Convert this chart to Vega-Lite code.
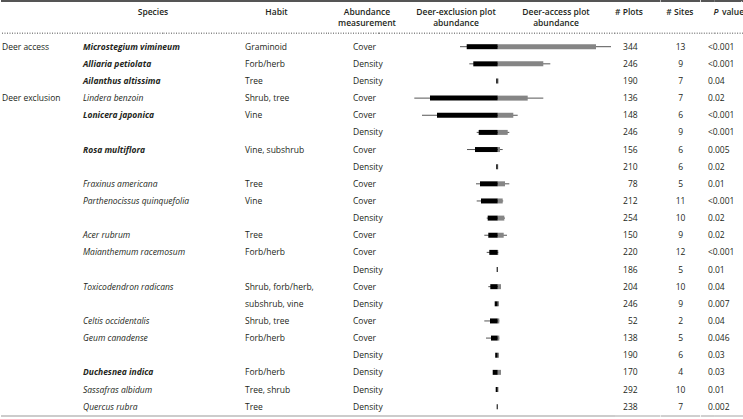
{
  "$schema": "https://vega.github.io/schema/vega-lite/v6.json",
  "padding": 0,
  "spacing": 0,
  "bounds": "flush",
  "config": {
    "view": {"stroke": null},
    "font": "Open Sans",
    "text": {"font": "Open Sans", "fontSize": 8.5, "color": "#231f20"}
  },
  "datasets": {
    "rows": [
      {"row":1,"g":"Deer access","s":"Microstegium vimineum","b":true,"h":"Graminoid","m":"Cover","n":"344","k":"13","p":"<0.001","exw":-37.7,"ex":-31,"ac":98.3,"acw":113.3},
      {"row":2,"s":"Alliaria petiolata","b":true,"h":"Forb/herb","m":"Density","n":"246","k":"9","p":"<0.001","exw":-28.4,"ex":-24.4,"ac":45.6,"acw":52.6},
      {"row":3,"s":"Ailanthus altissima","b":true,"h":"Tree","m":"Density","n":"190","k":"7","p":"0.04","ex":-1.5,"ac":0.8},
      {"row":4,"g":"Deer exclusion","s":"Lindera benzoin","b":false,"h":"Shrub, tree","m":"Cover","n":"136","k":"7","p":"0.02","exw":-83.4,"ex":-67.7,"ac":30,"acw":45.6},
      {"row":5,"s":"Lonicera japonica","b":true,"h":"Vine","m":"Cover","n":"148","k":"6","p":"<0.001","exw":-75.7,"ex":-60.7,"ac":15.6,"acw":20},
      {"row":6,"m":"Density","n":"246","k":"9","p":"<0.001","exw":-21,"ex":-19,"ac":10,"acw":11.6},
      {"row":7,"s":"Rosa multiflora","b":true,"h":"Vine, subshrub","m":"Cover","n":"156","k":"6","p":"0.005","exw":-30.7,"ex":-22.7,"ac":2.3,"acw":5},
      {"row":8,"m":"Density","n":"210","k":"6","p":"0.02","ex":-1.5,"ac":0.5},
      {"row":9,"s":"Fraxinus americana","b":false,"h":"Tree","m":"Cover","n":"78","k":"5","p":"0.01","exw":-21.7,"ex":-17.7,"ac":7.3,"acw":11.6},
      {"row":10,"s":"Parthenocissus quinquefolia","b":false,"h":"Vine","m":"Cover","n":"212","k":"11","p":"<0.001","exw":-21,"ex":-16.7,"ac":5,"acw":5.5},
      {"row":11,"m":"Density","n":"254","k":"10","p":"0.02","exw":-11,"ex":-10,"ac":6.6,"acw":7.3},
      {"row":12,"s":"Acer rubrum","b":false,"h":"Tree","m":"Cover","n":"150","k":"9","p":"0.02","exw":-13.4,"ex":-9.4,"ac":6,"acw":9.3},
      {"row":13,"s":"Maianthemum racemosum","b":false,"h":"Forb/herb","m":"Cover","n":"220","k":"12","p":"<0.001","exw":-11,"ex":-8.4,"ac":0.6,"acw":0.6},
      {"row":14,"m":"Density","n":"186","k":"5","p":"0.01","ex":-1,"ac":0.3},
      {"row":15,"s":"Toxicodendron radicans","b":false,"h":"Shrub, forb/herb,","m":"Cover","n":"204","k":"10","p":"0.04","exw":-9.4,"ex":-7.4,"ac":3.3,"acw":3.3},
      {"row":16,"h":"subshrub, vine","m":"Density","n":"246","k":"9","p":"0.007","ex":-3,"ac":1.3},
      {"row":17,"s":"Celtis occidentalis","b":false,"h":"Shrub, tree","m":"Cover","n":"52","k":"2","p":"0.04","exw":-13.4,"ex":-7.7,"ac":1.6,"acw":1.6},
      {"row":18,"s":"Geum canadense","b":false,"h":"Forb/herb","m":"Cover","n":"138","k":"5","p":"0.046","exw":-11.7,"ex":-6.7,"ac":1.6,"acw":1.6},
      {"row":19,"m":"Density","n":"190","k":"6","p":"0.03","ex":-2.5,"ac":1.3},
      {"row":20,"s":"Duchesnea indica","b":true,"h":"Forb/herb","m":"Density","n":"170","k":"4","p":"0.03","ex":-5,"ac":3.3},
      {"row":21,"s":"Sassafras albidum","b":false,"h":"Tree, shrub","m":"Density","n":"292","k":"10","p":"0.01","ex":-2,"ac":0.8},
      {"row":22,"s":"Quercus rubra","b":false,"h":"Tree","m":"Density","n":"238","k":"7","p":"0.002","ex":-1,"ac":0.3}
    ],
    "lines": [
      {"kind":"top","pos":-1.666},
      {"kind":"header","pos":0.218},
      {"kind":"bottom","pos":22.546}
    ],
    "heads": [
      {"col":"species","t":"Species"},
      {"col":"habit","t":"Habit"},
      {"col":"measure","t":"Abundance\nmeasurement"},
      {"col":"excl","t":"Deer-exclusion plot\nabundance"},
      {"col":"acc","t":"Deer-access plot\nabundance"},
      {"col":"plots","t":"# Plots"},
      {"col":"sites","t":"# Sites"},
      {"col":"pi","t":"P"},
      {"col":"pv","t":"value"}
    ]
  },
  "hconcat": [
    {
      "width": 2, "height": 419,
      "layer": [
        {"data":{"name":"lines"},"mark":{"type":"rule"},"encoding":{"y":{"field":"pos","type":"quantitative","scale":{"domain":[-1.7246,22.721],"reverse":true,"nice":false,"zero":false},"axis":null},"color":{"field":"kind","type":"nominal","scale":{"domain":["top","header","bottom"],"range":["#555555","#888888","#999999"]},"legend":null},"strokeWidth":{"field":"kind","type":"ordinal","scale":{"domain":["top","header","bottom"],"range":[2,1,1.5]},"legend":null},"strokeDash":{"field":"kind","type":"nominal","scale":{"domain":["top","header","bottom"],"range":[[1,0],[1,1.5],[1,0]]},"legend":null}}},
        {"data":{"name":"rows"},"transform":[{"filter":"isValid(datum.g)"}],"mark":{"type":"text","align":"left","baseline":"middle"},"encoding":{"text":{"field":"g","type":"nominal"},"y":{"field":"row","type":"quantitative","scale":{"domain":[-1.7246,22.721],"reverse":true,"nice":false,"zero":false},"axis":null}}}
      ]
    },
    {
      "width": 160, "height": 419,
      "layer": [
        {"data":{"name":"lines"},"mark":{"type":"rule"},"encoding":{"y":{"field":"pos","type":"quantitative","scale":{"domain":[-1.7246,22.721],"reverse":true,"nice":false,"zero":false},"axis":null},"color":{"field":"kind","type":"nominal","scale":{"domain":["top","header","bottom"],"range":["#555555","#888888","#999999"]},"legend":null},"strokeWidth":{"field":"kind","type":"ordinal","scale":{"domain":["top","header","bottom"],"range":[2,1,1.5]},"legend":null},"strokeDash":{"field":"kind","type":"nominal","scale":{"domain":["top","header","bottom"],"range":[[1,0],[1,1.5],[1,0]]},"legend":null}}},
        {"data":{"name":"heads"},"transform":[{"filter":"datum.col === 'species'"}],"mark":{"type":"text","align":"center","baseline":"top","dx":70,"fontWeight":600,"lineBreak":"\n","lineHeight":11.7},"encoding":{"text":{"field":"t","type":"nominal"},"y":{"datum":-1.281,"type":"quantitative","scale":{"domain":[-1.7246,22.721],"reverse":true,"nice":false,"zero":false},"axis":null}}},
        {"data":{"name":"rows"},"transform":[{"filter":"datum.b === true"}],"mark":{"type":"text","align":"left","baseline":"middle","fontStyle":"italic","fontWeight":"bold"},"encoding":{"text":{"field":"s","type":"nominal"},"y":{"field":"row","type":"quantitative","scale":{"domain":[-1.7246,22.721],"reverse":true,"nice":false,"zero":false},"axis":null}}},
        {"data":{"name":"rows"},"transform":[{"filter":"datum.b === false"}],"mark":{"type":"text","align":"left","baseline":"middle","fontStyle":"italic"},"encoding":{"text":{"field":"s","type":"nominal"},"y":{"field":"row","type":"quantitative","scale":{"domain":[-1.7246,22.721],"reverse":true,"nice":false,"zero":false},"axis":null}}}
      ]
    },
    {
      "width": 164, "height": 419,
      "layer": [
        {"data":{"name":"lines"},"mark":{"type":"rule"},"encoding":{"y":{"field":"pos","type":"quantitative","scale":{"domain":[-1.7246,22.721],"reverse":true,"nice":false,"zero":false},"axis":null},"color":{"field":"kind","type":"nominal","scale":{"domain":["top","header","bottom"],"range":["#555555","#888888","#999999"]},"legend":null},"strokeWidth":{"field":"kind","type":"ordinal","scale":{"domain":["top","header","bottom"],"range":[2,1,1.5]},"legend":null},"strokeDash":{"field":"kind","type":"nominal","scale":{"domain":["top","header","bottom"],"range":[[1,0],[1,1.5],[1,0]]},"legend":null}}},
        {"data":{"name":"heads"},"transform":[{"filter":"datum.col === 'habit'"}],"mark":{"type":"text","align":"center","baseline":"top","dx":31.5,"fontWeight":600,"lineBreak":"\n","lineHeight":11.7},"encoding":{"text":{"field":"t","type":"nominal"},"y":{"datum":-1.281,"type":"quantitative","scale":{"domain":[-1.7246,22.721],"reverse":true,"nice":false,"zero":false},"axis":null}}},
        {"data":{"name":"rows"},"transform":[{"filter":"isValid(datum.h)"}],"mark":{"type":"text","align":"left","baseline":"middle"},"encoding":{"text":{"field":"h","type":"nominal"},"y":{"field":"row","type":"quantitative","scale":{"domain":[-1.7246,22.721],"reverse":true,"nice":false,"zero":false},"axis":null}}}
      ]
    },
    {
      "width": 52, "height": 419,
      "layer": [
        {"data":{"name":"lines"},"mark":{"type":"rule"},"encoding":{"y":{"field":"pos","type":"quantitative","scale":{"domain":[-1.7246,22.721],"reverse":true,"nice":false,"zero":false},"axis":null},"color":{"field":"kind","type":"nominal","scale":{"domain":["top","header","bottom"],"range":["#555555","#888888","#999999"]},"legend":null},"strokeWidth":{"field":"kind","type":"ordinal","scale":{"domain":["top","header","bottom"],"range":[2,1,1.5]},"legend":null},"strokeDash":{"field":"kind","type":"nominal","scale":{"domain":["top","header","bottom"],"range":[[1,0],[1,1.5],[1,0]]},"legend":null}}},
        {"data":{"name":"heads"},"transform":[{"filter":"datum.col === 'measure'"}],"mark":{"type":"text","align":"center","baseline":"top","dx":14,"fontWeight":600,"lineBreak":"\n","lineHeight":11.7},"encoding":{"text":{"field":"t","type":"nominal"},"y":{"datum":-1.281,"type":"quantitative","scale":{"domain":[-1.7246,22.721],"reverse":true,"nice":false,"zero":false},"axis":null}}},
        {"data":{"name":"rows"},"mark":{"type":"text","align":"left","baseline":"middle"},"encoding":{"text":{"field":"m","type":"nominal"},"y":{"field":"row","type":"quantitative","scale":{"domain":[-1.7246,22.721],"reverse":true,"nice":false,"zero":false},"axis":null}}}
      ]
    },
    {
      "width": 236, "height": 419,
      "layer": [
        {"data":{"name":"lines"},"mark":{"type":"rule"},"encoding":{"y":{"field":"pos","type":"quantitative","scale":{"domain":[-1.7246,22.721],"reverse":true,"nice":false,"zero":false},"axis":null},"color":{"field":"kind","type":"nominal","scale":{"domain":["top","header","bottom"],"range":["#555555","#888888","#999999"]},"legend":null},"strokeWidth":{"field":"kind","type":"ordinal","scale":{"domain":["top","header","bottom"],"range":[2,1,1.5]},"legend":null},"strokeDash":{"field":"kind","type":"nominal","scale":{"domain":["top","header","bottom"],"range":[[1,0],[1,1.5],[1,0]]},"legend":null}}},
        {"data":{"name":"heads"},"transform":[{"filter":"datum.col === 'excl'"}],"mark":{"type":"text","align":"center","baseline":"top","dx":-41,"fontWeight":600,"lineBreak":"\n","lineHeight":11.7},"encoding":{"text":{"field":"t","type":"nominal"},"y":{"datum":-1.281,"type":"quantitative","scale":{"domain":[-1.7246,22.721],"reverse":true,"nice":false,"zero":false},"axis":null}}},
        {"data":{"name":"heads"},"transform":[{"filter":"datum.col === 'acc'"}],"mark":{"type":"text","align":"center","baseline":"top","dx":59,"fontWeight":600,"lineBreak":"\n","lineHeight":11.7},"encoding":{"text":{"field":"t","type":"nominal"},"y":{"datum":-1.281,"type":"quantitative","scale":{"domain":[-1.7246,22.721],"reverse":true,"nice":false,"zero":false},"axis":null}}},
        {"data":{"name":"rows"},"transform":[{"filter":"isValid(datum.exw)"}],"mark":{"type":"rule","color":"#555555","strokeWidth":1},"encoding":{"x":{"field":"exw","type":"quantitative","scale":{"domain":[-118.7,117.3],"nice":false,"zero":false},"axis":null},"x2":{"field":"acw"},"y":{"field":"row","type":"quantitative","scale":{"domain":[-1.7246,22.721],"reverse":true,"nice":false,"zero":false},"axis":null}}},
        {"data":{"name":"rows"},"mark":{"type":"rule","color":"#858585","strokeWidth":5,"strokeCap":"butt"},"encoding":{"x":{"field":"ac","type":"quantitative","scale":{"domain":[-118.7,117.3],"nice":false,"zero":false},"axis":null},"x2":{"datum":0},"y":{"field":"row","type":"quantitative","scale":{"domain":[-1.7246,22.721],"reverse":true,"nice":false,"zero":false},"axis":null}}},
        {"data":{"name":"rows"},"mark":{"type":"rule","color":"#000000","strokeWidth":5,"strokeCap":"butt"},"encoding":{"x":{"field":"ex","type":"quantitative","scale":{"domain":[-118.7,117.3],"nice":false,"zero":false},"axis":null},"x2":{"datum":0},"y":{"field":"row","type":"quantitative","scale":{"domain":[-1.7246,22.721],"reverse":true,"nice":false,"zero":false},"axis":null}}}
      ]
    },
    {
      "width": 45.4, "height": 419,
      "layer": [
        {"data":{"name":"lines"},"mark":{"type":"rule"},"encoding":{"y":{"field":"pos","type":"quantitative","scale":{"domain":[-1.7246,22.721],"reverse":true,"nice":false,"zero":false},"axis":null},"color":{"field":"kind","type":"nominal","scale":{"domain":["top","header","bottom"],"range":["#555555","#888888","#999999"]},"legend":null},"strokeWidth":{"field":"kind","type":"ordinal","scale":{"domain":["top","header","bottom"],"range":[2,1,1.5]},"legend":null},"strokeDash":{"field":"kind","type":"nominal","scale":{"domain":["top","header","bottom"],"range":[[1,0],[1,1.5],[1,0]]},"legend":null}}},
        {"data":{"name":"heads"},"transform":[{"filter":"datum.col === 'plots'"}],"mark":{"type":"text","align":"center","baseline":"top","dx":-8.7,"fontWeight":600,"lineBreak":"\n","lineHeight":11.7},"encoding":{"text":{"field":"t","type":"nominal"},"y":{"datum":-1.281,"type":"quantitative","scale":{"domain":[-1.7246,22.721],"reverse":true,"nice":false,"zero":false},"axis":null}}},
        {"data":{"name":"rows"},"mark":{"type":"text","align":"right","baseline":"middle"},"encoding":{"text":{"field":"n","type":"nominal"},"y":{"field":"row","type":"quantitative","scale":{"domain":[-1.7246,22.721],"reverse":true,"nice":false,"zero":false},"axis":null}}}
      ]
    },
    {
      "width": 39.2, "height": 419,
      "layer": [
        {"data":{"name":"lines"},"mark":{"type":"rule"},"encoding":{"y":{"field":"pos","type":"quantitative","scale":{"domain":[-1.7246,22.721],"reverse":true,"nice":false,"zero":false},"axis":null},"color":{"field":"kind","type":"nominal","scale":{"domain":["top","header","bottom"],"range":["#555555","#888888","#999999"]},"legend":null},"strokeWidth":{"field":"kind","type":"ordinal","scale":{"domain":["top","header","bottom"],"range":[2,1,1.5]},"legend":null},"strokeDash":{"field":"kind","type":"nominal","scale":{"domain":["top","header","bottom"],"range":[[1,0],[1,1.5],[1,0]]},"legend":null}}},
        {"data":{"name":"heads"},"transform":[{"filter":"datum.col === 'sites'"}],"mark":{"type":"text","align":"center","baseline":"top","dx":-0.7,"fontWeight":600,"lineBreak":"\n","lineHeight":11.7},"encoding":{"text":{"field":"t","type":"nominal"},"y":{"datum":-1.281,"type":"quantitative","scale":{"domain":[-1.7246,22.721],"reverse":true,"nice":false,"zero":false},"axis":null}}},
        {"data":{"name":"rows"},"mark":{"type":"text","align":"center","baseline":"middle"},"encoding":{"text":{"field":"k","type":"nominal"},"y":{"field":"row","type":"quantitative","scale":{"domain":[-1.7246,22.721],"reverse":true,"nice":false,"zero":false},"axis":null}}}
      ]
    },
    {
      "width": 13.8, "height": 419,
      "layer": [
        {"data":{"name":"lines"},"mark":{"type":"rule"},"encoding":{"y":{"field":"pos","type":"quantitative","scale":{"domain":[-1.7246,22.721],"reverse":true,"nice":false,"zero":false},"axis":null},"color":{"field":"kind","type":"nominal","scale":{"domain":["top","header","bottom"],"range":["#555555","#888888","#999999"]},"legend":null},"strokeWidth":{"field":"kind","type":"ordinal","scale":{"domain":["top","header","bottom"],"range":[2,1,1.5]},"legend":null},"strokeDash":{"field":"kind","type":"nominal","scale":{"domain":["top","header","bottom"],"range":[[1,0],[1,1.5],[1,0]]},"legend":null}}},
        {"data":{"name":"heads"},"transform":[{"filter":"datum.col === 'pi'"}],"mark":{"type":"text","align":"left","baseline":"top","dx":5.5,"fontWeight":600,"fontStyle":"italic","lineBreak":"\n","lineHeight":11.7},"encoding":{"text":{"field":"t","type":"nominal"},"y":{"datum":-1.281,"type":"quantitative","scale":{"domain":[-1.7246,22.721],"reverse":true,"nice":false,"zero":false},"axis":null}}},
        {"data":{"name":"heads"},"transform":[{"filter":"datum.col === 'pv'"}],"mark":{"type":"text","align":"left","baseline":"top","dx":14,"fontWeight":600,"lineBreak":"\n","lineHeight":11.7},"encoding":{"text":{"field":"t","type":"nominal"},"y":{"datum":-1.281,"type":"quantitative","scale":{"domain":[-1.7246,22.721],"reverse":true,"nice":false,"zero":false},"axis":null}}},
        {"data":{"name":"rows"},"mark":{"type":"text","align":"left","baseline":"middle"},"encoding":{"text":{"field":"p","type":"nominal"},"y":{"field":"row","type":"quantitative","scale":{"domain":[-1.7246,22.721],"reverse":true,"nice":false,"zero":false},"axis":null}}}
      ]
    },
    {
      "width": 30.6, "height": 419,
      "layer": [
        {"data":{"name":"lines"},"mark":{"type":"rule"},"encoding":{"y":{"field":"pos","type":"quantitative","scale":{"domain":[-1.7246,22.721],"reverse":true,"nice":false,"zero":false},"axis":null},"color":{"field":"kind","type":"nominal","scale":{"domain":["top","header","bottom"],"range":["#555555","#888888","#999999"]},"legend":null},"strokeWidth":{"field":"kind","type":"ordinal","scale":{"domain":["top","header","bottom"],"range":[2,1,1.5]},"legend":null},"strokeDash":{"field":"kind","type":"nominal","scale":{"domain":["top","header","bottom"],"range":[[1,0],[1,1.5],[1,0]]},"legend":null}}}
      ]
    }
  ]
}
